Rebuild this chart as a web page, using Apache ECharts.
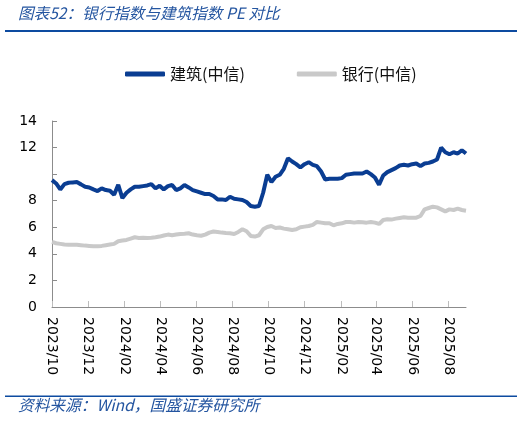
<!DOCTYPE html>
<html>
<head>
<meta charset="utf-8">
<script src="https://cdn.jsdelivr.net/npm/echarts@6/dist/echarts.min.js"></script>
<style>
  html, body { margin: 0; padding: 0; background: #fff; }
  #chart { width: 526px; height: 421px; }
</style>
</head>
<body>
<div id="chart"></div>
<script>
// weekly readings, first one on 2023-10-01
const startDate = "2023-10-01";
const stepDays = 7;

const jianzhu = [
  9.55, 9.3, 8.85, 9.25, 9.35, 9.38, 9.4, 9.23, 9.05, 9.0,
  8.85, 8.73, 8.93, 8.8, 8.75, 8.45, 9.2, 8.2, 8.6, 8.85,
  9.05, 9.05, 9.1, 9.15, 9.25, 8.93, 9.13, 8.85, 9.1, 9.18,
  8.8, 8.93, 9.18, 9.0, 8.8, 8.7, 8.6, 8.5, 8.5, 8.35,
  8.1, 8.1, 8.05, 8.3, 8.15, 8.1, 8.05, 7.9, 7.6, 7.55,
  7.6, 8.6, 9.95, 9.4, 9.8, 9.95, 10.4, 11.2, 10.95, 10.75,
  10.5, 10.75, 10.9, 10.7, 10.6, 10.2, 9.6, 9.65, 9.65, 9.65,
  9.7, 9.95, 10.0, 10.05, 10.05, 10.05, 10.2, 10.0, 9.75, 9.2,
  9.9, 10.15, 10.3, 10.45, 10.65, 10.7, 10.65, 10.75, 10.8, 10.6,
  10.8, 10.85, 10.95, 11.1, 12.0, 11.65, 11.5, 11.65, 11.55, 11.8,
  11.55
];

const yinhang = [
  4.9, 4.8, 4.75, 4.7, 4.68, 4.68, 4.68, 4.65, 4.62, 4.6,
  4.57, 4.57, 4.6, 4.65, 4.7, 4.75, 4.95, 5.0, 5.05, 5.15,
  5.25, 5.2, 5.22, 5.2, 5.22, 5.25, 5.3, 5.38, 5.45, 5.4,
  5.45, 5.5, 5.52, 5.55, 5.45, 5.4, 5.36, 5.45, 5.6, 5.68,
  5.65, 5.6, 5.57, 5.55, 5.5, 5.65, 5.85, 5.7, 5.35, 5.3,
  5.4, 5.85, 6.02, 6.1, 5.95, 5.98, 5.9, 5.85, 5.8, 5.85,
  6.0, 6.05, 6.1, 6.18, 6.4, 6.35, 6.3, 6.3, 6.15, 6.25,
  6.3, 6.4, 6.4, 6.35, 6.4, 6.38, 6.35, 6.4, 6.35, 6.25,
  6.55, 6.6, 6.58, 6.65, 6.7, 6.75, 6.72, 6.72, 6.72, 6.85,
  7.35, 7.45, 7.55, 7.5, 7.35, 7.2, 7.35, 7.3, 7.4, 7.3,
  7.25
];

const tickMonths = [
  "2023-10-01", "2023-12-01", "2024-02-01", "2024-04-01", "2024-06-01", "2024-08-01",
  "2024-10-01", "2024-12-01", "2025-02-01", "2025-04-01", "2025-06-01", "2025-08-01"
];

const yTicks = [0, 2, 4, 6, 8, 10, 12, 14];
const hiddenYLabels = [10];

const seriesNames = ["建筑(中信)", "银行(中信)"];
const titleText = "图表52：银行指数与建筑指数 PE 对比";
const sourceText = "资料来源：Wind，国盛证券研究所";

// x axis is "days since startDate"
const DAY = 24 * 3600 * 1000;
function toUTC(s) {
  const p = s.split("-");
  return Date.UTC(+p[0], +p[1] - 1, +p[2]);
}
const t0 = toUTC(startDate);
const dayOf = s => Math.round((toUTC(s) - t0) / DAY);
const pairs = vals => vals.map((v, i) => [i * stepDays, v]);
const tickDays = tickMonths.map(dayOf);
const lastDay = (jianzhu.length - 1) * stepDays;

function dayLabel(d) {
  const dt = new Date(t0 + d * DAY);
  const m = dt.getUTCMonth() + 1;
  return dt.getUTCFullYear() + "/" + (m < 10 ? "0" + m : m);
}

const blue = "#0a3d92";
const grey = "#c9c9c9";
const titleBlue = "#2455a0";
const axisGrey = "#8c8c8c";

const chart = echarts.init(document.getElementById("chart"));

chart.setOption({
  animation: false,
  textStyle: { fontFamily: "DejaVu Sans" },
  grid: { left: 52, right: 60, top: 121, bottom: 114, containLabel: false },
  legend: {
    data: seriesNames,
    left: 120,
    top: 61,
    icon: "roundRect",
    itemWidth: 40,
    itemHeight: 5,
    itemGap: 52,
    textStyle: { fontFamily: "Noto Sans CJK SC", fontSize: 16, color: "#111" }
  },
  xAxis: {
    type: "value",
    min: 0,
    max: lastDay,
    splitLine: { show: false },
    axisLine: { lineStyle: { color: axisGrey, width: 1 } },
    axisTick: {
      show: true,
      inside: true,
      length: 6,
      customValues: tickDays,
      lineStyle: { color: "#bdbdbd", width: 1 }
    },
    axisLabel: {
      customValues: tickDays,
      rotate: -90,
      margin: 10,
      fontSize: 14,
      color: "#000",
      fontFamily: "DejaVu Sans",
      formatter: dayLabel
    }
  },
  yAxis: {
    type: "value",
    min: yTicks[0],
    max: yTicks[yTicks.length - 1],
    interval: 2,
    splitLine: { show: false },
    axisLine: { show: true, lineStyle: { color: axisGrey, width: 1 } },
    axisTick: { show: true, inside: true, length: 5, lineStyle: { color: axisGrey } },
    axisLabel: {
      margin: 15,
      fontSize: 14,
      color: "#000",
      fontFamily: "DejaVu Sans",
      formatter: v => (hiddenYLabels.indexOf(v) >= 0 ? "" : String(v))
    }
  },
  series: [
    {
      name: seriesNames[0],
      type: "line",
      data: pairs(jianzhu),
      showSymbol: false,
      symbol: "none",
      z: 3,
      lineStyle: { color: blue, width: 4 },
      itemStyle: { color: blue }
    },
    {
      name: seriesNames[1],
      type: "line",
      data: pairs(yinhang),
      showSymbol: false,
      symbol: "none",
      z: 2,
      lineStyle: { color: grey, width: 4 },
      itemStyle: { color: grey }
    }
  ],
  graphic: [
    {
      type: "text",
      left: 18,
      top: 5,
      style: {
        text: titleText,
        font: "italic 15.6px 'Noto Sans CJK SC'",
        fill: titleBlue
      }
    },
    {
      type: "rect",
      shape: { x: 5, y: 30, width: 512, height: 2 },
      style: { fill: "#0d4ba0" }
    },
    {
      type: "rect",
      shape: { x: 5, y: 395.5, width: 512, height: 1.5 },
      style: { fill: "#0d4ba0" }
    },
    {
      type: "text",
      left: 18,
      top: 397,
      style: {
        text: sourceText,
        font: "italic 15.7px 'Noto Sans CJK SC'",
        fill: titleBlue
      }
    }
  ]
});
</script>
</body>
</html>
